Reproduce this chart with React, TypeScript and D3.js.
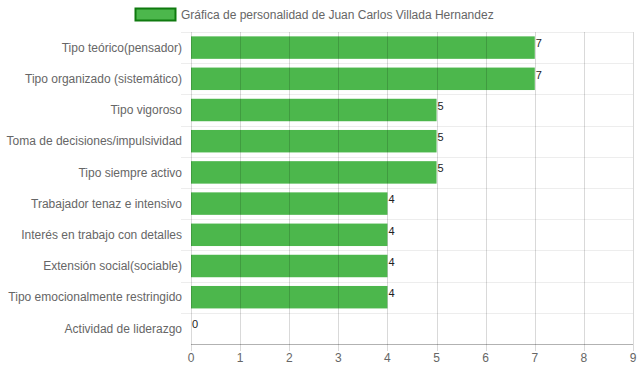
import React, { useEffect, useRef } from 'react';
import * as d3 from 'd3';

const categories = [
  'Tipo teórico(pensador)',
  'Tipo organizado (sistemático)',
  'Tipo vigoroso',
  'Toma de decisiones/impulsividad',
  'Tipo siempre activo',
  'Trabajador tenaz e intensivo',
  'Interés en trabajo con detalles',
  'Extensión social(sociable)',
  'Tipo emocionalmente restringido',
  'Actividad de liderazgo',
];
const values = [7, 7, 5, 5, 5, 4, 4, 4, 4, 0];
const xTicks = [0, 1, 2, 3, 4, 5, 6, 7, 8, 9];
const legendLabel = 'Gráfica de personalidad de Juan Carlos Villada Hernandez';

const App = () => {
  const svgRef = useRef<SVGSVGElement>(null);

  useEffect(() => {
    const width = 639;
    const height = 372;
    const margin = { top: 32, right: 6, bottom: 28, left: 191 };
    const svg = d3.select(svgRef.current);
    svg.selectAll('*').remove();
    svg.attr('width', width).attr('height', height);

    const font = "'Liberation Sans', Arial, sans-serif";
    const x = d3.scaleLinear().domain([0, 9]).range([margin.left, width - margin.right]);
    const y = d3.scaleBand().domain(categories).range([margin.top, height - margin.bottom]).paddingInner(0.28).paddingOuter(0.14);
    const step = y.step();

    const data = categories.map((c, i) => ({ c, v: values[i] }));

    svg.selectAll('rect.bar')
      .data(data)
      .enter()
      .append('rect')
      .attr('x', x(0))
      .attr('y', d => y(d.c) as number)
      .attr('width', d => x(d.v) - x(0))
      .attr('height', y.bandwidth())
      .attr('fill', '#4cb74c');

    // horizontal grid (category boundaries)
    const g = svg.append('g');
    for (let i = 0; i < categories.length; i++) {
      const yy = Math.round(margin.top + i * step) + 0.5;
      g.append('line')
        .attr('x1', margin.left - 10).attr('x2', width - margin.right)
        .attr('y1', yy).attr('y2', yy)
        .attr('stroke', 'rgba(0,0,0,0.07)');
    }

    // vertical grid
    xTicks.forEach(t => {
      const xx = Math.round(x(t)) + 0.5;
      g.append('line')
        .attr('x1', xx).attr('x2', xx)
        .attr('y1', margin.top).attr('y2', height - margin.bottom + 7)
        .attr('stroke', 'rgba(0,0,0,0.15)');
    });

    // bottom axis line
    svg.append('line')
      .attr('x1', margin.left).attr('x2', width - margin.right)
      .attr('y1', height - margin.bottom + 0.5).attr('y2', height - margin.bottom + 0.5)
      .attr('stroke', 'rgba(0,0,0,0.3)');

    svg.selectAll('text.xtick')
      .data(xTicks)
      .enter()
      .append('text')
      .attr('x', d => x(d))
      .attr('y', height - 10)
      .attr('text-anchor', 'middle')
      .style('font-family', font)
      .style('font-size', '12px')
      .attr('fill', '#666')
      .text(d => d);

    svg.selectAll('text.ylab')
      .data(categories)
      .enter()
      .append('text')
      .attr('x', margin.left - 9)
      .attr('y', d => (y(d) as number) + y.bandwidth() / 2)
      .attr('dy', '0.35em')
      .attr('text-anchor', 'end')
      .style('font-family', font)
      .style('font-size', '12px')
      .attr('fill', '#666')
      .text(d => d);

    svg.selectAll('text.val')
      .data(data)
      .enter()
      .append('text')
      .attr('x', d => x(d.v) + 1)
      .attr('y', d => (y(d.c) as number) + 11)
      .style('font-family', font)
      .style('font-size', '11px')
      .attr('fill', '#222')
      .text(d => d.v);

    // legend
    svg.append('rect')
      .attr('x', 135.5).attr('y', 8.5).attr('width', 40).attr('height', 12)
      .attr('fill', '#4cb74c').attr('stroke', '#0f7a0f').attr('stroke-width', 2);
    svg.append('text')
      .attr('x', 181).attr('y', 14.5)
      .attr('dy', '0.35em')
      .style('font-family', font)
      .style('font-size', '12px')
      .attr('fill', '#666')
      .text(legendLabel);
  }, []);

  return (
    <div style={{ position: 'absolute', left: 0, top: 0 }}>
      <svg ref={svgRef}></svg>
    </div>
  );
};

export default App;
